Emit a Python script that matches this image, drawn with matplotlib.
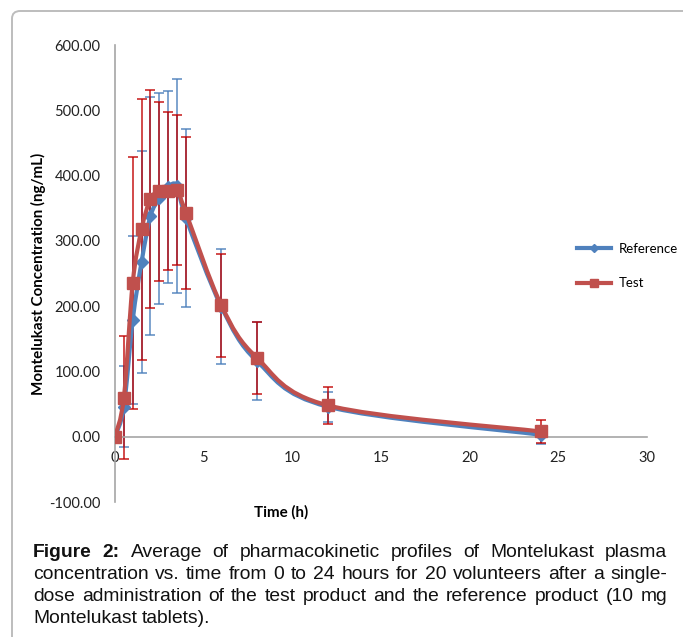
import numpy as np
import matplotlib
matplotlib.use("Agg")
import matplotlib.pyplot as plt
from matplotlib.path import Path
from matplotlib.patches import PathPatch, FancyBboxPatch
from matplotlib.lines import Line2D
from matplotlib import font_manager as fm

# ---------------- data ----------------
time_h = [0, 0.5, 1, 1.5, 2, 2.5, 3, 3.5, 4, 6, 8, 12, 24]
ref_mean = [0, 46, 179, 268, 338, 365, 383, 384, 335, 199, 116, 46, 3]
ref_sd = [0, 62, 129, 170, 182, 162, 147, 164, 136, 88, 59, 23, 14]
test_mean = [0, 60, 236, 318, 364, 376, 377, 378, 343, 201, 121, 48, 8]
test_sd = [0, 94, 193, 200, 167, 137, 121, 115, 116, 79, 55, 28, 17]
series_names = ["Reference", "Test"]
x_ticks = [0, 5, 10, 15, 20, 25, 30]
y_ticks = [-100, 0, 100, 200, 300, 400, 500, 600]
caption_lines = [
    "Figure 2: Average of pharmacokinetic profiles of Montelukast plasma",
    "concentration vs. time from 0 to 24 hours for 20 volunteers after a single-",
    "dose administration of the test product and the reference product (10 mg",
    "Montelukast tablets).",
]

W, H = 683, 637
fig = plt.figure(figsize=(W / 100, H / 100), dpi=100)

available = {f.name for f in fm.fontManager.ttflist}
tick_font = "Lato" if "Lato" in available else "DejaVu Sans"
cap_font = "Liberation Sans Narrow" if "Liberation Sans Narrow" in available else "Liberation Sans"


def px(x, y):
    return x / W, 1 - y / H


# frame around the figure (rounded corner, top-left)
frame = FancyBboxPatch(px(12, 680), (720 - 12) / W, (680 - 11) / H,
                       boxstyle="round,pad=0,rounding_size=0.012",
                       transform=fig.transFigure, fill=False,
                       edgecolor="#bdbdbd", linewidth=1.4, clip_on=False)
fig.patches.append(frame)

# axes: left 115, right 647, top 45, bottom 502 (px)
ax = fig.add_axes([115 / W, 1 - 502 / H, (647 - 115) / W, (502 - 45) / H])
ax.set_xlim(0, 30)
ax.set_ylim(-100, 600)
for s in ["top", "right"]:
    ax.spines[s].set_visible(False)
ax.spines["bottom"].set_position(("data", 0))
for s in ["left", "bottom"]:
    ax.spines[s].set_color("#a6a6a6")
    ax.spines[s].set_linewidth(1.2)
ax.set_xticks(x_ticks)
ax.set_yticks(y_ticks)
ax.set_yticklabels([f"{v:.2f}" for v in y_ticks], fontsize=10.5, family=tick_font)
ax.set_xticklabels([str(v) for v in x_ticks], fontsize=10.5, family=tick_font)
ax.tick_params(axis="both", length=0, colors="#222222")
ax.tick_params(axis="y", pad=10.5)
ax.tick_params(axis="x", pad=10)
ax.patch.set_alpha(0)

blue = "#4F81BD"
red = "#C0504D"
blue_err = "#4A7EBB"
red_err = "#C00000"

# error bars
ax.errorbar(time_h, ref_mean, yerr=ref_sd, fmt="none", ecolor=blue_err,
            elinewidth=1.1, capsize=3.5, capthick=1.1, zorder=2, alpha=0.9)
ax.errorbar(time_h, test_mean, yerr=test_sd, fmt="none", ecolor=red_err,
            elinewidth=1.1, capsize=3.5, capthick=1.1, zorder=2.1, alpha=0.9)


def smooth_path(xs, ys):
    pts = np.column_stack([xs, ys]).astype(float)
    n = len(pts)
    verts = [pts[0]]
    codes = [Path.MOVETO]
    for i in range(n - 1):
        p0 = pts[i - 1] if i > 0 else pts[i]
        p1 = pts[i]
        p2 = pts[i + 1]
        p3 = pts[i + 2] if i + 2 < n else pts[i + 1]
        c1 = p1 + (p2 - p0) / 6.0
        c2 = p2 - (p3 - p1) / 6.0
        verts += [c1, c2, p2]
        codes += [Path.CURVE4] * 3
    return Path(verts, codes)


ax.add_patch(PathPatch(smooth_path(time_h, ref_mean), fill=False, edgecolor=blue,
                       linewidth=3.0, zorder=3, capstyle="round", joinstyle="round"))
ax.plot(time_h, ref_mean, linestyle="none", marker="D", markersize=6,
        color=blue, zorder=3.1)
ax.add_patch(PathPatch(smooth_path(time_h, test_mean), fill=False, edgecolor=red,
                       linewidth=3.0, zorder=4, capstyle="round", joinstyle="round"))
ax.plot(time_h, test_mean, linestyle="none", marker="s", markersize=8.5,
        color=red, zorder=4.1)

# axis labels
fig.text(*px(38, 274), "Montelukast Concentration (ng/mL)", rotation=90,
         ha="center", va="center", fontsize=10.9, fontweight="bold", family=tick_font)
fig.text(*px(281, 512), "Time (h)", ha="center", va="center",
         fontsize=10.9, fontweight="bold", family=tick_font)

# legend
handles = [
    Line2D([], [], color=blue, linewidth=3.0, marker="D", markersize=4),
    Line2D([], [], color=red, linewidth=3.0, marker="s", markersize=6),
]
leg = fig.legend(handles, series_names, loc="upper left",
                 bbox_to_anchor=px(577, 243), bbox_transform=fig.transFigure,
                 frameon=False, prop={"family": tick_font, "size": 9.5},
                 handlelength=2.6, handletextpad=0.55, labelspacing=1.7,
                 borderpad=0, borderaxespad=0)

# caption (justified)
fig.canvas.draw()
renderer = fig.canvas.get_renderer()
left_px, right_px = 33, 667
baselines = [557, 579, 601, 623]

# choose the caption size so that the longest line fills the width with natural spacing
probe = fig.text(0, 0, caption_lines[1], fontsize=10, family=cap_font)
w10 = probe.get_window_extent(renderer).width
probe.remove()
cap_size = 10 * (right_px - left_px) * 0.985 / w10

for li, (line, base) in enumerate(zip(caption_lines, baselines)):
    words = line.split(" ")
    texts = []
    for wi, w in enumerate(words):
        bold = (li == 0 and wi < 2)
        t = fig.text(0, 0, w, fontsize=cap_size, family=cap_font,
                     fontweight="bold" if bold else "normal",
                     ha="left", va="baseline", color="#111111")
        texts.append(t)
    widths = [t.get_window_extent(renderer).width for t in texts]
    if li < len(caption_lines) - 1:
        gap = (right_px - left_px - sum(widths)) / (len(words) - 1)
    else:
        sp = fig.text(0, 0, "a a", fontsize=cap_size, family=cap_font)
        sp2 = fig.text(0, 0, "aa", fontsize=cap_size, family=cap_font)
        gap = sp.get_window_extent(renderer).width - sp2.get_window_extent(renderer).width
        sp.remove(); sp2.remove()
    x = left_px
    for t, wd in zip(texts, widths):
        t.set_position(px(x, base))
        x += wd + gap

fig.savefig("out.png", dpi=100)
